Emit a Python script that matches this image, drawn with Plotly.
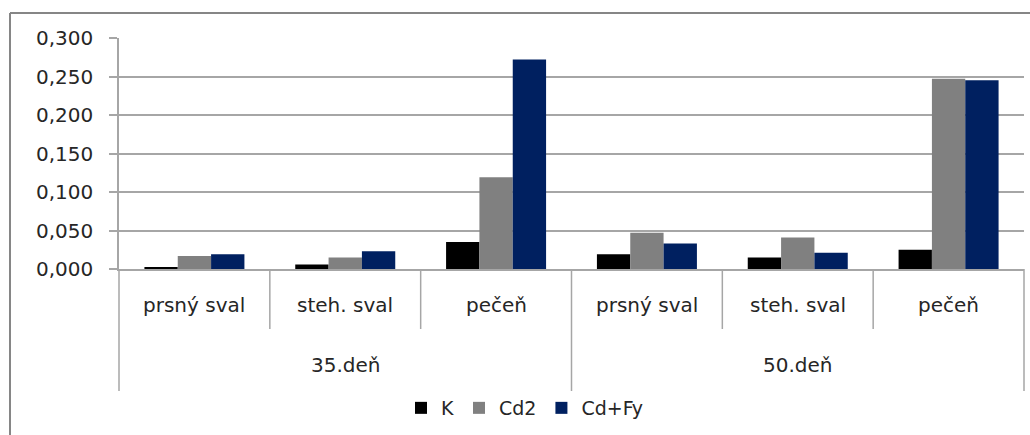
import plotly.graph_objects as go

groups = ["35.deň", "50.deň"]
tissues = ["prsný sval", "steh. sval", "pečeň"]
series_names = ["K", "Cd2", "Cd+Fy"]
K_vals = [0.002, 0.006, 0.035, 0.019, 0.015, 0.025]
Cd2_vals = [0.017, 0.015, 0.119, 0.047, 0.041, 0.247]
CdFy_vals = [0.019, 0.023, 0.272, 0.033, 0.021, 0.245]
colors = ["#000000", "#808080", "#002060"]
y_ticks = [0, 0.05, 0.10, 0.15, 0.20, 0.25, 0.30]

cats = [(g, t) for g in groups for t in tissues]
xpos = list(range(len(cats)))

W, H = 1030, 435
ml, mr, mt, mb = 119, 6, 38, 166
plot_h = H - mt - mb
FONT = "DejaVu Sans"
TXT = "#262626"
GRID = "#a6a6a6"

fig = go.Figure()
for name, vals, col in zip(series_names, [K_vals, Cd2_vals, CdFy_vals], colors):
    fig.add_trace(go.Bar(x=xpos, y=vals, name=name, marker=dict(color=col, line=dict(width=0))))

def py(px):
    # pixels below plot bottom -> paper y
    return -px / plot_h

shapes = []
n = len(cats)
# subcategory dividers (short) and group dividers (long)
for i in range(1, n):
    long_ = (i % len(tissues) == 0)
    shapes.append(dict(type="line", xref="x", yref="paper", x0=i - 0.5, x1=i - 0.5,
                       y0=0, y1=py(122 if long_ else 60), line=dict(color=GRID, width=1.5)))
for xp in [0, 1]:
    shapes.append(dict(type="line", xref="paper", yref="paper", x0=xp, x1=xp,
                       y0=0, y1=py(122), line=dict(color=GRID, width=1.5)))
# outer chart border (left and top)
bx = (10 - ml) / (W - ml - mr)
by_top = (H - mb - 13) / plot_h
shapes.append(dict(type="line", xref="paper", yref="paper", x0=bx, x1=bx,
                   y0=by_top, y1=py(200), line=dict(color="#868686", width=2)))
shapes.append(dict(type="line", xref="paper", yref="paper", x0=bx, x1=1.2,
                   y0=by_top, y1=by_top, line=dict(color="#868686", width=2)))

annotations = []
for i, (g, t) in enumerate(cats):
    annotations.append(dict(x=i, y=py(36), xref="x", yref="paper", text=t, showarrow=False,
                            font=dict(family=FONT, size=20, color=TXT), xanchor="center", yanchor="middle"))
for gi, g in enumerate(groups):
    center = gi * len(tissues) + (len(tissues) - 1) / 2
    annotations.append(dict(x=center, y=py(96), xref="x", yref="paper", text=g, showarrow=False,
                            font=dict(family=FONT, size=20, color=TXT), xanchor="center", yanchor="middle"))

fig.update_layout(
    width=W, height=H,
    margin=dict(l=ml, r=mr, t=mt, b=mb),
    paper_bgcolor="white", plot_bgcolor="white",
    barmode="group", bargap=0.337, bargroupgap=0,
    separators=", ",
    font=dict(family=FONT, color=TXT),
    xaxis=dict(range=[-0.5, n - 0.5], showticklabels=False, ticks="", showgrid=False,
               showline=True, linecolor=GRID, linewidth=1.5, zeroline=False, fixedrange=True),
    yaxis=dict(range=[0, 0.3], tickvals=y_ticks, tickformat=".3f", showgrid=True, gridcolor=GRID,
               gridwidth=1.5, showline=True, linecolor=GRID, linewidth=1.5, ticks="outside",
               ticklen=8, tickcolor=GRID, tickwidth=1.5, zeroline=False,
               tickfont=dict(family=FONT, size=20, color=TXT), ticklabelstandoff=12),
    legend=dict(orientation="h", x=(401 - ml) / (W - ml - mr), xanchor="left",
                y=py(139), yanchor="middle", font=dict(family=FONT, size=19, color=TXT),
                bgcolor="rgba(0,0,0,0)", itemwidth=30, tracegroupgap=0),
    shapes=shapes, annotations=annotations, showlegend=True,
)

fig.write_html("out.html")
